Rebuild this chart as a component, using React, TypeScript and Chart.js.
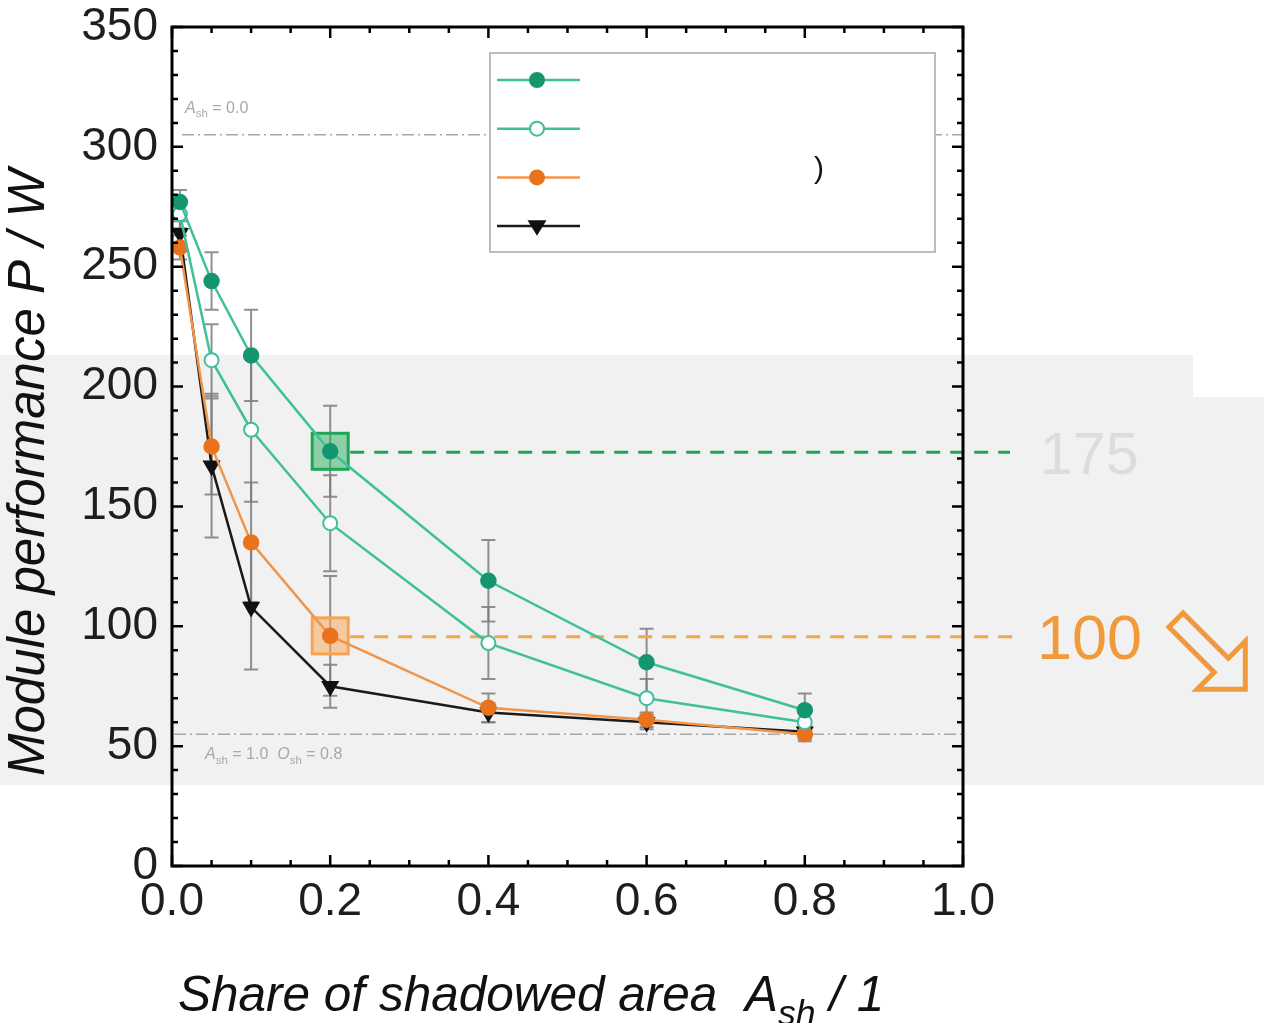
import React, { useEffect, useRef } from "react";
import { Chart, registerables } from "chart.js";

Chart.register(...registerables);

// ---- data ----
const shareValues = [0.01, 0.05, 0.1, 0.2, 0.4, 0.6, 0.8];
const seriesFilledGreen = [277, 244, 213, 173, 119, 85, 65];
const seriesOpenGreen = [272, 211, 182, 143, 93, 70, 60];
const seriesOrange = [258, 175, 135, 96, 66, 61, 55];
const seriesBlack = [264, 167, 108, 75, 64, 60, 56];
const errFilledGreen = [5, 12, 19, 19, 17, 14, 7];
const errOpenGreen = [6, 15, 30, 20, 15, 8, 5];
const errOrange = [5, 20, 25, 25, 6, 3, 3];
const errBlack = [5, 30, 26, 9, 4, 3, 3];
const legendLabels = ["", "", ")", ""];
const xTickValues = [0, 0.2, 0.4, 0.6, 0.8, 1.0];
const yTickValues = [0, 50, 100, 150, 200, 250, 300, 350];
const refLevels = [305, 55];
const highlightShare = [0.2, 0.2];
const highlightValues = [173, 96];
const highlightLabels = ["175", "100"];

const FONT = "'Liberation Sans', Arial, Helvetica, sans-serif";

type Part = { t: string; sub?: boolean; it?: boolean };

function drawRich(ctx: CanvasRenderingContext2D, parts: Part[], x: number, y: number, size: number, italicAll = false) {
  let cx = x;
  parts.forEach((p) => {
    const s = p.sub ? size * 0.72 : size;
    const it = italicAll || p.it;
    ctx.font = `${it ? "italic " : ""}${s}px ${FONT}`;
    const yy = p.sub ? y + size * 0.28 : y;
    ctx.fillText(p.t, cx, yy);
    cx += ctx.measureText(p.t).width;
  });
}

function marker(ctx: CanvasRenderingContext2D, kind: string, x: number, y: number, r: number, fill: string, stroke: string) {
  ctx.save();
  ctx.beginPath();
  if (kind === "tri") {
    ctx.moveTo(x - r * 1.1, y - r * 0.7);
    ctx.lineTo(x + r * 1.1, y - r * 0.7);
    ctx.lineTo(x, y + r * 1.1);
    ctx.closePath();
  } else {
    ctx.arc(x, y, r, 0, Math.PI * 2);
  }
  ctx.fillStyle = fill;
  ctx.fill();
  ctx.lineWidth = 2;
  ctx.strokeStyle = stroke;
  ctx.stroke();
  ctx.restore();
}

const errorSets = [errFilledGreen, errOpenGreen, errOrange, errBlack];

const decorPlugin = {
  id: "decor",
  beforeDatasetsDraw(chart: any) {
    const ctx: CanvasRenderingContext2D = chart.ctx;
    const xs = chart.scales.x;
    const ys = chart.scales.y;
    const area = chart.chartArea;
    ctx.save();
    // reference lines
    ctx.strokeStyle = "#a8a8a8";
    ctx.lineWidth = 1.5;
    ctx.setLineDash([12, 4, 2, 4]);
    refLevels.forEach((v, i) => {
      const y = ys.getPixelForValue(v);
      ctx.beginPath();
      ctx.moveTo(area.left + (i === 0 ? 10 : 2), y);
      ctx.lineTo(area.right, y);
      ctx.stroke();
    });
    ctx.setLineDash([]);
    ctx.fillStyle = "#a8a8a8";
    ctx.textBaseline = "alphabetic";
    const y0 = ys.getPixelForValue(refLevels[0]);
    drawRich(ctx, [{ t: "A", it: true }, { t: "sh", sub: true }, { t: " = 0.0" }], area.left + 13, y0 - 22, 16);
    const y1 = ys.getPixelForValue(refLevels[1]);
    drawRich(ctx, [{ t: "A", it: true }, { t: "sh", sub: true }, { t: " = 1.0  " }, { t: "O", it: true }, { t: "sh", sub: true }, { t: " = 0.8" }], area.left + 33, y1 + 25, 16);

    // error bars
    ctx.strokeStyle = "rgba(125,125,125,0.85)";
    ctx.lineWidth = 2;
    chart.data.datasets.forEach((ds: any, di: number) => {
      const errs = errorSets[di];
      ds.data.forEach((pt: any, i: number) => {
        const x = xs.getPixelForValue(pt.x);
        const yt = ys.getPixelForValue(pt.y + errs[i]);
        const yb = ys.getPixelForValue(pt.y - errs[i]);
        ctx.beginPath();
        ctx.moveTo(x, yt);
        ctx.lineTo(x, yb);
        ctx.moveTo(x - 7, yt);
        ctx.lineTo(x + 7, yt);
        ctx.moveTo(x - 7, yb);
        ctx.lineTo(x + 7, yb);
        ctx.stroke();
      });
    });

    // highlight squares and dashed lines
    const hl = [
      { fill: "rgba(40,175,95,0.5)", stroke: "#1fa556", lineEnd: 1010 },
      { fill: "rgba(248,170,95,0.55)", stroke: "#f5a552", lineEnd: 1015 },
    ];
    highlightValues.forEach((v, i) => {
      const cx = xs.getPixelForValue(highlightShare[i]);
      const cy = ys.getPixelForValue(v);
      const h = hl[i];
      ctx.fillStyle = h.fill;
      ctx.fillRect(cx - 18, cy - 18, 36, 36);
      ctx.strokeStyle = h.stroke;
      ctx.lineWidth = 3;
      ctx.strokeRect(cx - 18, cy - 18, 36, 36);
      ctx.setLineDash([14, 10]);
      ctx.beginPath();
      ctx.moveTo(cx + 20, cy + 1);
      ctx.lineTo(h.lineEnd, cy + 1);
      ctx.stroke();
      ctx.setLineDash([]);
    });
    ctx.restore();
  },
  afterDraw(chart: any) {
    const ctx: CanvasRenderingContext2D = chart.ctx;
    const xs = chart.scales.x;
    const ys = chart.scales.y;
    const a = chart.chartArea;
    ctx.save();
    // frame
    ctx.strokeStyle = "#000";
    ctx.lineWidth = 3;
    ctx.strokeRect(a.left, a.top, a.right - a.left, a.bottom - a.top);
    // ticks
    ctx.lineWidth = 2.5;
    ctx.beginPath();
    for (let v = 0; v <= 350; v += 10) {
      const y = ys.getPixelForValue(v);
      const len = v % 50 === 0 ? 11 : 6;
      ctx.moveTo(a.left, y);
      ctx.lineTo(a.left + len, y);
      ctx.moveTo(a.right, y);
      ctx.lineTo(a.right - len, y);
    }
    for (let k = 0; k <= 20; k++) {
      const v = k * 0.05;
      const x = xs.getPixelForValue(v);
      const len = k % 4 === 0 ? 11 : 6;
      ctx.moveTo(x, a.bottom);
      ctx.lineTo(x, a.bottom - len);
      ctx.moveTo(x, a.top);
      ctx.lineTo(x, a.top + len);
    }
    ctx.stroke();

    // legend
    const lx = 490, ly = 53, lw = 445, lh = 199;
    ctx.fillStyle = "#fff";
    ctx.fillRect(lx, ly, lw, lh);
    ctx.strokeStyle = "#bdbdbd";
    ctx.lineWidth = 2;
    ctx.strokeRect(lx, ly, lw, lh);
    chart.data.datasets.forEach((ds: any, i: number) => {
      const y = 80 + i * 48.7;
      ctx.strokeStyle = ds.borderColor;
      ctx.lineWidth = ds.borderWidth;
      ctx.beginPath();
      ctx.moveTo(497, y);
      ctx.lineTo(580, y);
      ctx.stroke();
      marker(ctx, i === 3 ? "tri" : "circ", 537, y, 7, ds.pointBackgroundColor, ds.pointBorderColor);
      ctx.fillStyle = "#111";
      ctx.font = `30px ${FONT}`;
      ctx.textBaseline = "middle";
      if (legendLabels[i]) ctx.fillText(legendLabels[i], 814, y - 8);
    });

    // highlight labels
    const tcol = ["#dcdcdc", "#f29a3a"];
    const tsize = [59, 63];
    const tx = [1040, 1037];
    highlightValues.forEach((v, i) => {
      const cy = ys.getPixelForValue(v);
      ctx.fillStyle = tcol[i];
      ctx.font = `${tsize[i]}px ${FONT}`;
      ctx.textBaseline = "middle";
      ctx.fillText(highlightLabels[i], tx[i], cy + 6);
    });

    // hollow arrow (down-right)
    ctx.save();
    ctx.translate(1176, 620);
    ctx.rotate(Math.PI / 4);
    const L = 98, h = 34, w = 10;
    ctx.beginPath();
    ctx.moveTo(0, -w);
    ctx.lineTo(L - h, -w);
    ctx.lineTo(L - h, -h);
    ctx.lineTo(L, 0);
    ctx.lineTo(L - h, h);
    ctx.lineTo(L - h, w);
    ctx.lineTo(0, w);
    ctx.closePath();
    ctx.strokeStyle = "#f29a3a";
    ctx.lineWidth = 5;
    ctx.lineJoin = "miter";
    ctx.stroke();
    ctx.restore();

    // axis titles
    ctx.fillStyle = "#111";
    ctx.textBaseline = "alphabetic";
    drawRich(ctx, [{ t: "Share of shadowed area  A" }, { t: "sh", sub: true }, { t: " / 1" }], 178, 1011, 49.5, true);
    ctx.save();
    ctx.translate(44, 776);
    ctx.rotate(-Math.PI / 2);
    ctx.font = `italic 51px ${FONT}`;
    ctx.fillText("Module performance P / W", 0, 0);
    ctx.restore();
    ctx.restore();
  },
};

function toPoints(vals: number[]) {
  return shareValues.map((x, i) => ({ x, y: vals[i] }));
}

export default function App() {
  const ref = useRef<HTMLCanvasElement | null>(null);
  useEffect(() => {
    if (!ref.current) return;
    const chart = new Chart(ref.current, {
      type: "line",
      data: {
        datasets: [
          {
            label: legendLabels[0],
            data: toPoints(seriesFilledGreen),
            borderColor: "#3fbf9c",
            borderWidth: 2.5,
            pointBackgroundColor: "#14966f",
            pointBorderColor: "#14966f",
            pointRadius: 7,
            pointStyle: "circle",
          },
          {
            label: legendLabels[1],
            data: toPoints(seriesOpenGreen),
            borderColor: "#3fbf9c",
            borderWidth: 2.5,
            pointBackgroundColor: "#ffffff",
            pointBorderColor: "#3fbf9c",
            pointBorderWidth: 2,
            pointRadius: 7,
            pointStyle: "circle",
          },
          {
            label: legendLabels[2],
            data: toPoints(seriesOrange),
            borderColor: "#f0954a",
            borderWidth: 2.5,
            pointBackgroundColor: "#e8731c",
            pointBorderColor: "#e8731c",
            pointRadius: 7,
            pointStyle: "circle",
          },
          {
            label: legendLabels[3],
            data: toPoints(seriesBlack),
            borderColor: "#1a1a1a",
            borderWidth: 2.5,
            pointBackgroundColor: "#111111",
            pointBorderColor: "#111111",
            pointRadius: 8,
            pointStyle: "triangle",
            pointRotation: 180,
          },
        ],
      },
      options: {
        animation: false,
        responsive: false,
        maintainAspectRatio: false,
        layout: { padding: { top: 27, right: 301, left: 0, bottom: 0 } },
        plugins: { legend: { display: false }, tooltip: { enabled: false } },
        scales: {
          x: {
            type: "linear",
            min: 0,
            max: 1,
            afterFit: (s: any) => {
              s.height = 157;
            },
            afterBuildTicks: (s: any) => {
              s.ticks = xTickValues.map((v) => ({ value: v }));
            },
            ticks: {
              callback: (v: any) => Number(v).toFixed(1),
              font: { size: 46, family: FONT },
              color: "#1e1e1e",
              padding: 9,
              maxRotation: 0,
              autoSkip: false,
            },
            grid: { display: false, drawTicks: false },
            border: { display: false },
          },
          y: {
            type: "linear",
            min: 0,
            max: 350,
            afterFit: (s: any) => {
              s.width = 172;
            },
            afterBuildTicks: (s: any) => {
              s.ticks = yTickValues.map((v) => ({ value: v }));
            },
            ticks: {
              font: { size: 46, family: FONT, lineHeight: 0.5 },
              color: "#1e1e1e",
              padding: 14,
              autoSkip: false,
            },
            grid: { display: false, drawTicks: false },
            border: { display: false },
          },
        },
      },
      plugins: [decorPlugin],
    } as any);
    return () => chart.destroy();
  }, []);
  return (
    <div style={{ position: "absolute", left: 0, top: 0, width: 1264, height: 1023, background: "#fff" }}>
      <div style={{ position: "absolute", left: 0, top: 355, width: 1193, height: 430, background: "#f1f1f1" }} />
      <div style={{ position: "absolute", left: 0, top: 397, width: 1264, height: 388, background: "#f1f1f1" }} />
      <canvas ref={ref} width={1264} height={1023} style={{ position: "absolute", left: 0, top: 0, width: 1264, height: 1023 }} />
    </div>
  );
}
